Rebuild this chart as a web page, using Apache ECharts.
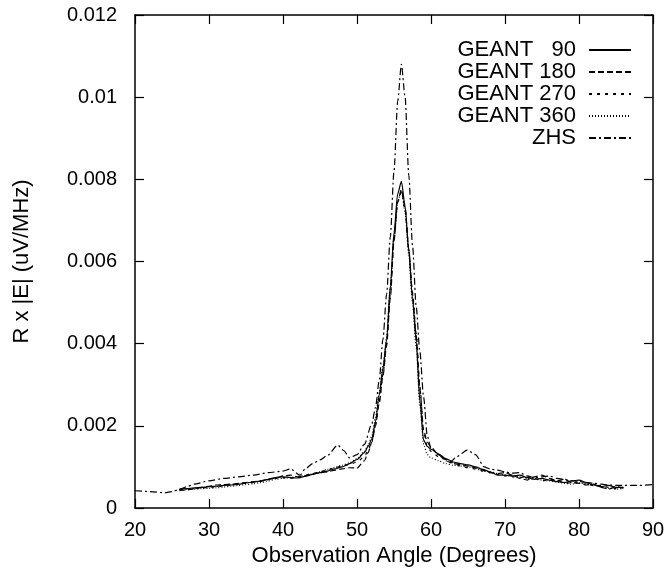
<!DOCTYPE html>
<html>
<head>
<meta charset="utf-8">
<script src="https://cdn.jsdelivr.net/npm/echarts@6/dist/echarts.min.js"></script>
<style>
  html, body { margin: 0; padding: 0; background: #fff; }
  #chart { width: 670px; height: 569px; }
</style>
</head>
<body>
<div id="chart"></div>
<script>
// observation angles (degrees) for the GEANT runs
const geantAngles = [
  26, 27, 28, 29, 30, 31, 32, 33, 34, 35, 36, 37, 38, 39, 40, 41, 42, 43, 44, 45, 46, 47, 48, 49, 50, 51,
  51.5, 52, 52.5, 53, 53.5, 54, 54.5, 55, 55.5, 56, 56.5, 57, 57.5, 58, 58.5, 59, 59.5, 60,
  61, 62, 63, 64, 65, 66, 67, 68, 69, 70, 71, 72, 73, 74, 75, 76, 77, 78, 79, 80, 81, 82, 83, 84, 85, 86
]
const geant90 = [
  0.00046, 0.00047, 0.00049, 0.00050, 0.00052, 0.00053, 0.00055, 0.00056, 0.00058, 0.00061, 0.00063, 0.00066, 0.00070,
  0.00074, 0.00076, 0.00074, 0.00073, 0.00077, 0.00082, 0.00086, 0.00090, 0.00095, 0.00100, 0.00108, 0.00118, 0.00135,
  0.00150, 0.00168, 0.00210, 0.00275, 0.00340, 0.00410, 0.00540, 0.00670, 0.00765, 0.00795, 0.00735, 0.00625, 0.00510,
  0.00405, 0.00260, 0.00165, 0.00150, 0.00143,
  0.00132, 0.00120, 0.00112, 0.00108, 0.00105, 0.00100, 0.00094, 0.00088, 0.00080, 0.00080, 0.00078, 0.00080, 0.00074,
  0.00070, 0.00072, 0.00068, 0.00064, 0.00062, 0.00066, 0.00068, 0.00062, 0.00056, 0.00052, 0.00055, 0.00050, 0.00050
]
const geant180 = [
  0.00042, 0.00044, 0.00047, 0.00050, 0.00053, 0.00056, 0.00057, 0.00058, 0.00060, 0.00062, 0.00064, 0.00066, 0.00070,
  0.00073, 0.00078, 0.00080, 0.00076, 0.00078, 0.00083, 0.00086, 0.00088, 0.00092, 0.00095, 0.00098, 0.00097, 0.00115,
  0.00135, 0.00160, 0.00200, 0.00255, 0.00320, 0.00395, 0.00510, 0.00650, 0.00745, 0.00775, 0.00730, 0.00630, 0.00520,
  0.00420, 0.00290, 0.00190, 0.00160, 0.00148,
  0.00130, 0.00115, 0.00108, 0.00106, 0.00102, 0.00098, 0.00092, 0.00086, 0.00084, 0.00086, 0.00080, 0.00072, 0.00068,
  0.00076, 0.00080, 0.00072, 0.00066, 0.00070, 0.00062, 0.00060, 0.00056, 0.00058, 0.00050, 0.00046, 0.00052, 0.00048
]
const geant270 = [
  0.00045, 0.00046, 0.00048, 0.00049, 0.00050, 0.00052, 0.00054, 0.00057, 0.00059, 0.00060, 0.00062, 0.00065, 0.00069,
  0.00072, 0.00074, 0.00072, 0.00075, 0.00080, 0.00084, 0.00088, 0.00093, 0.00098, 0.00102, 0.00106, 0.00112, 0.00125,
  0.00140, 0.00162, 0.00205, 0.00260, 0.00325, 0.00400, 0.00520, 0.00655, 0.00745, 0.00770, 0.00725, 0.00630, 0.00525,
  0.00425, 0.00295, 0.00185, 0.00150, 0.00138,
  0.00125, 0.00118, 0.00110, 0.00102, 0.00098, 0.00095, 0.00090, 0.00086, 0.00082, 0.00078, 0.00076, 0.00074, 0.00076,
  0.00072, 0.00066, 0.00070, 0.00068, 0.00062, 0.00060, 0.00063, 0.00060, 0.00054, 0.00055, 0.00050, 0.00047, 0.00050
]
const geant360 = [
  0.00044, 0.00045, 0.00046, 0.00047, 0.00048, 0.00049, 0.00051, 0.00053, 0.00055, 0.00057, 0.00059, 0.00062, 0.00066,
  0.00070, 0.00072, 0.00074, 0.00077, 0.00079, 0.00083, 0.00088, 0.00094, 0.00099, 0.00104, 0.00110, 0.00120, 0.00138,
  0.00152, 0.00175, 0.00220, 0.00280, 0.00345, 0.00415, 0.00535, 0.00660, 0.00745, 0.00772, 0.00720, 0.00615, 0.00500,
  0.00390, 0.00250, 0.00155, 0.00130, 0.00122,
  0.00115, 0.00108, 0.00104, 0.00102, 0.00100, 0.00096, 0.00090, 0.00088, 0.00084, 0.00080, 0.00078, 0.00076, 0.00072,
  0.00070, 0.00068, 0.00066, 0.00064, 0.00060, 0.00058, 0.00062, 0.00058, 0.00056, 0.00052, 0.00048, 0.00046, 0.00048
]
// ZHS run covers the whole range
const zhsAngles = [
  20, 22, 24, 25, 26, 27, 28, 30, 32, 34, 36, 38, 40, 41, 42.3, 43, 44, 45, 46, 47.4, 48.2, 49, 50, 51, 52, 52.5,
  53, 53.5, 54, 54.5, 55, 55.5, 56, 56.5, 57, 57.5, 58, 58.5, 59, 59.5, 60, 61, 62, 62.6, 63.5, 64.9, 66, 67.2,
  68, 69, 70, 71, 72, 73, 74, 75, 76, 77, 78, 79, 80, 81, 82, 83, 84, 85, 86, 88, 90
]
const zhs = [
  0.00042, 0.00040, 0.00037, 0.00040, 0.00045, 0.00052, 0.00058, 0.00066, 0.00072, 0.00076, 0.00080, 0.00086, 0.00090,
  0.00095, 0.00080, 0.00095, 0.00108, 0.00117, 0.00128, 0.00153, 0.00140, 0.00122, 0.00130, 0.00155, 0.00205, 0.00245,
  0.00310, 0.00410, 0.00520, 0.00660, 0.00820, 0.00990, 0.01080, 0.01000, 0.00810, 0.00640, 0.00490, 0.00380, 0.00270,
  0.00175, 0.00145, 0.00130, 0.00118, 0.00112, 0.00125, 0.00141, 0.00130, 0.00100,
  0.00095, 0.00092, 0.00088, 0.00085, 0.00086, 0.00078, 0.00074, 0.00076, 0.00078, 0.00072, 0.00070, 0.00066, 0.00065,
  0.00062, 0.00060, 0.00058, 0.00056, 0.00055, 0.00055, 0.00055, 0.00057
]
const seriesNames = ['GEANT   90', 'GEANT 180', 'GEANT 270', 'GEANT 360', 'ZHS']

const font = 'Liberation Sans, Arial, Helvetica, sans-serif'
const black = '#000'

function pairs (xs, ys) {
  return xs.map(function (x, i) { return [x, ys[i]] })
}

function frameAxis (extra) {
  return Object.assign({
    type: 'value',
    axisLine: { show: true, onZero: false, lineStyle: { color: black, width: 1.5 } },
    axisTick: { show: true, inside: true, length: 9, lineStyle: { color: black, width: 1.2 } },
    splitLine: { show: false },
    axisLabel: { show: false }
  }, extra)
}

const tickStyle = { color: black, fontSize: 20, fontFamily: font }
const nameStyle = { color: black, fontSize: 22, fontFamily: font }

function lineSeries (name, xs, ys, dash) {
  return {
    name: name,
    type: 'line',
    xAxisIndex: 0,
    yAxisIndex: 0,
    showSymbol: false,
    symbol: 'none',
    smooth: 0.25,
    smoothMonotone: 'x',
    lineStyle: { color: black, width: 1.2, type: dash },
    itemStyle: { color: black },
    data: pairs(xs, ys)
  }
}

const chart = echarts.init(document.getElementById('chart'))
chart.setOption({
  backgroundColor: '#fff',
  animation: false,
  grid: { left: 135, right: 17, top: 15, bottom: 61, outerBoundsMode: 'none' },
  legend: {
    orient: 'vertical',
    right: 38,
    top: 39,
    align: 'right',
    itemWidth: 42,
    itemHeight: 14,
    itemGap: 0,
    padding: 0,
    data: seriesNames,
    itemStyle: { opacity: 0 },
    textStyle: {
      color: black, fontSize: 22, fontFamily: font, width: 125, lineHeight: 21, padding: [0, 8, 0, 0]
    }
  },
  xAxis: [
    frameAxis({
      min: 20, max: 90, interval: 10, position: 'bottom',
      axisLabel: Object.assign({ show: true, margin: 12 }, tickStyle),
      name: 'Observation Angle (Degrees)',
      nameLocation: 'middle',
      nameGap: 30,
      nameTextStyle: nameStyle
    }),
    frameAxis({ min: 20, max: 90, interval: 10, position: 'top' })
  ],
  yAxis: [
    frameAxis({
      min: 0, max: 0.012, interval: 0.002, position: 'left',
      axisLabel: Object.assign({ show: true, margin: 18 }, tickStyle),
      name: 'R x |E| (uV/MHz)',
      nameLocation: 'middle',
      nameGap: 102,
      nameTextStyle: nameStyle
    }),
    frameAxis({ min: 0, max: 0.012, interval: 0.002, position: 'right' })
  ],
  series: [
    lineSeries(seriesNames[0], geantAngles, geant90, 'solid'),
    lineSeries(seriesNames[1], geantAngles, geant180, [6, 3]),
    lineSeries(seriesNames[2], geantAngles, geant270, [3, 5]),
    lineSeries(seriesNames[3], geantAngles, geant360, [1, 2]),
    lineSeries(seriesNames[4], zhsAngles, zhs, [7, 3, 2, 3])
  ]
})
</script>
</body>
</html>
